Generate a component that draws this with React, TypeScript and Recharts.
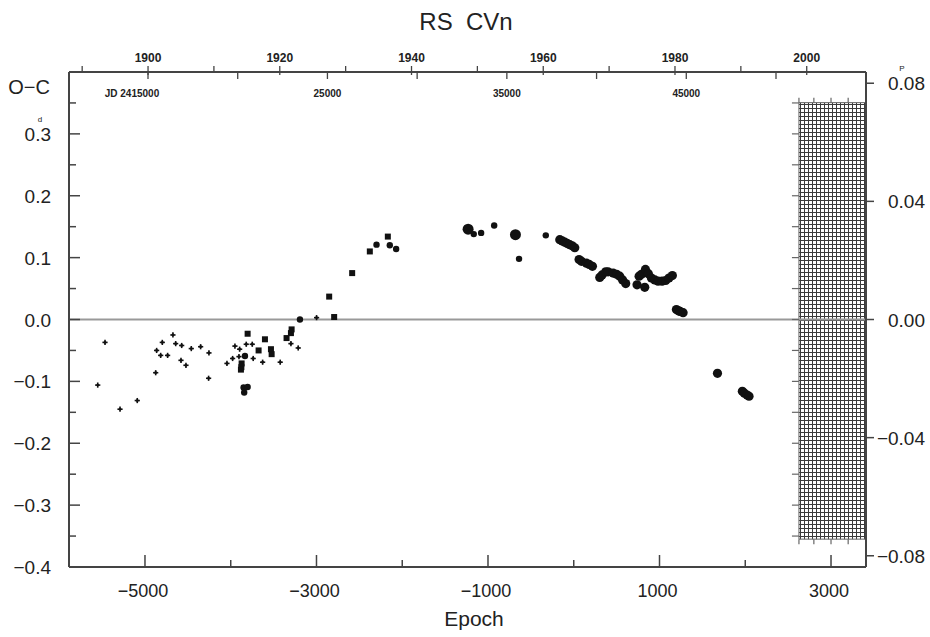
import React from 'react';
import { ScatterChart, Scatter, XAxis, YAxis, ReferenceLine, ReferenceArea } from 'recharts';

// ---------- data ----------
const visualObs: number[][] = [
  [-5551, -0.106], [-5466, -0.037], [-5291, -0.145], [-5090, -0.131], [-4875, -0.086],
  [-4864, -0.05], [-4817, -0.058], [-4798, -0.037], [-4736, -0.058], [-4674, -0.025],
  [-4642, -0.039], [-4580, -0.066], [-4572, -0.042], [-4522, -0.074], [-4460, -0.047],
  [-4351, -0.044], [-4258, -0.095], [-4254, -0.054], [-4044, -0.071], [-3978, -0.063],
  [-3951, -0.043], [-3904, -0.06], [-3896, -0.048], [-3819, -0.04], [-3749, -0.04],
  [-3738, -0.063], [-3628, -0.069], [-3423, -0.069], [-3298, -0.039], [-3213, -0.046],
  [-2999, 0.003],
];
const photoObs: number[][] = [
  [-3803, -0.023], [-3881, -0.081], [-3876, -0.077], [-3873, -0.071], [-3675, -0.05],
  [-3601, -0.032], [-3531, -0.048], [-3523, -0.056], [-3349, -0.03], [-3298, -0.022],
  [-3290, -0.016], [-2852, 0.037], [-2794, 0.004], [-2584, 0.075], [-2378, 0.11], [-2168, 0.134],
];
const smallDots: number[][] = [
  [-3850, -0.11], [-3803, -0.109], [-3843, -0.118], [-3834, -0.059], [-3193, 0.0],
  [-2300, 0.121], [-2145, 0.12], [-2071, 0.114], [-1166, 0.138], [-1080, 0.14],
  [-928, 0.152], [-638, 0.098], [-326, 0.136],
];
const bigDots: number[][] = [[-1232, 0.146], [-680, 0.137]];
const modernDots: number[][] = [
  [-163, 0.129], [-134, 0.127], [-105, 0.125], [-76, 0.123], [-47, 0.121], [-18, 0.119],
  [12, 0.116], [62, 0.097], [90, 0.094], [148, 0.091], [180, 0.089], [218, 0.086],
  [303, 0.068], [330, 0.072], [373, 0.077], [400, 0.077], [459, 0.075], [500, 0.073],
  [536, 0.07], [570, 0.064], [606, 0.058], [738, 0.056], [762, 0.07], [790, 0.073],
  [836, 0.081], [828, 0.052], [870, 0.074], [906, 0.067], [945, 0.064], [983, 0.062],
  [1030, 0.062], [1072, 0.063], [1110, 0.067], [1150, 0.071], [1197, 0.016], [1220, 0.014],
  [1240, 0.013], [1275, 0.011], [1676, -0.087], [1966, -0.116], [1990, -0.119],
  [2022, -0.122], [2044, -0.124],
];

const epochDomain = [-5886, 3408];
const ocDomain = [-0.4, 0.4];
const phaseDomain = [-0.0838, 0.0838];
const yearDomain = [1888, 2009];
const jdDomain = [10597, 55016];

const epochTicks = [-5000, -4000, -3000, -2000, -1000, 0, 1000, 2000, 3000];
const epochLabels = [-5000, -3000, -1000, 1000, 3000];
const ocTicks = [-0.4, -0.35, -0.3, -0.25, -0.2, -0.15, -0.1, -0.05, 0, 0.05, 0.1, 0.15, 0.2, 0.25, 0.3, 0.35, 0.4];
const ocLabels = [-0.4, -0.3, -0.2, -0.1, 0, 0.1, 0.2, 0.3];
const phaseTicks = [-0.08, -0.04, 0, 0.04, 0.08];
const yearTicks = [1890, 1900, 1910, 1920, 1930, 1940, 1950, 1960, 1970, 1980, 1990, 2000];
const yearLabels = [1900, 1920, 1940, 1960, 1980, 2000];
const jdTicks = [15000, 20000, 25000, 30000, 35000, 40000, 45000, 50000];
const jdLabels: Record<number, string> = { 15000: 'JD 2415000', 25000: '25000', 35000: '35000', 45000: '45000' };
const hatchBox = { x1: 2626, x2: 3408, y1: -0.355, y2: 0.3505 };
const hatchSideTicks = [0.35, 0.3, 0.25, 0.2, 0.15, 0.1, 0.05, 0, -0.05, -0.1, -0.15, -0.2, -0.25, -0.3, -0.35];
const hatchEdgeTicks = [2626, 2800, 3000, 3200];

const toPts = (a: number[][]) => a.map(([x, y]) => ({ x, y }));

const FONT = "'Liberation Sans', Arial, sans-serif";
const INK = '#222';
const AXIS = '#444';

const fmt = (v: number, d: number) => (v < 0 ? '\u2212' : '') + Math.abs(v).toFixed(d);
const near = (a: number, b: number) => Math.abs(a - b) < 1e-9;

const EpochTick = (p: any) => {
  const v = p.payload.value;
  const major = epochLabels.includes(v);
  return (
    <g>
      <line x1={p.x} x2={p.x} y1={p.y} y2={p.y - (major ? 12 : 7)} stroke={AXIS} strokeWidth={1.5} />
      {major && (
        <text x={p.x - 2} y={p.y + 30} textAnchor="middle" fontSize={18} fontFamily={FONT} fill={INK}>
          {fmt(v, 0)}
        </text>
      )}
    </g>
  );
};

const OcTick = (p: any) => {
  const v = p.payload.value;
  const major = Math.round(v * 100) % 10 === 0;
  const lab = ocLabels.some((l) => near(l, v));
  const is03 = near(v, 0.3);
  return (
    <g>
      <line x1={p.x} x2={p.x + (major ? 11 : 7)} y1={p.y} y2={p.y} stroke={AXIS} strokeWidth={1.5} />
      {lab && (
        <text x={p.x - 18} y={p.y + 7} textAnchor="end" fontSize={19} fontFamily={FONT} fill={INK}>
          {fmt(v, 1)}
        </text>
      )}
      {is03 && (
        <text x={p.x - 29} y={p.y - 12} textAnchor="middle" fontSize={8} fontFamily={FONT} fill={INK}>d</text>
      )}
    </g>
  );
};

const PhaseTick = (p: any) => {
  const v = p.payload.value;
  const is08 = near(v, 0.08);
  return (
    <g>
      <line x1={p.x} x2={p.x + 8} y1={p.y} y2={p.y} stroke={AXIS} strokeWidth={1.5} />
      <text x={p.x + 59} y={p.y + 7} textAnchor="end" fontSize={19} fontFamily={FONT} fill={INK}>
        {fmt(v, 2)}
      </text>
      {is08 && (
        <text x={p.x + 36} y={p.y - 12} textAnchor="middle" fontSize={8} fontFamily={FONT} fill={INK}>P</text>
      )}
    </g>
  );
};

const YearTick = (p: any) => {
  const v = p.payload.value;
  const lab = yearLabels.includes(v);
  return (
    <g>
      <line x1={p.x} x2={p.x} y1={p.y + (lab ? 3 : 0)} y2={p.y - 6} stroke={AXIS} strokeWidth={1.3} />
      {lab && (
        <text x={p.x} y={p.y - 10} textAnchor="middle" fontSize={12} fontWeight="bold" fontFamily={FONT} fill={INK}>
          {v}
        </text>
      )}
    </g>
  );
};

const JdTick = (p: any) => {
  const v = p.payload.value;
  const lab = jdLabels[v];
  return (
    <g>
      <line x1={p.x} x2={p.x} y1={p.y} y2={p.y + 7} stroke={AXIS} strokeWidth={1.3} />
      {lab && (
        <text x={v === 15000 ? p.x - 16 : p.x} y={p.y + 25} textAnchor="middle" fontSize={10} fontWeight="bold" fontFamily={FONT} fill={INK}>
          {lab}
        </text>
      )}
    </g>
  );
};

const plusShape = (p: any) => (
  <g>
    <line x1={p.cx - 2.6} x2={p.cx + 2.6} y1={p.cy} y2={p.cy} stroke="#111" strokeWidth={1.6} />
    <line x1={p.cx} x2={p.cx} y1={p.cy - 2.6} y2={p.cy + 2.6} stroke="#111" strokeWidth={1.6} />
    <circle cx={p.cx} cy={p.cy} r={1.4} fill="#111" />
  </g>
);
const squareShape = (p: any) => <rect x={p.cx - 3} y={p.cy - 3} width={6} height={6} fill="#111" />;
const dot = (r: number) => (p: any) => <circle cx={p.cx} cy={p.cy} r={r} fill="#111" />;
const noShape = () => <g />;
const leftTickShape = (p: any) => <line x1={p.cx - 7} x2={p.cx} y1={p.cy} y2={p.cy} stroke="#666" strokeWidth={1.2} />;
const downTickShape = (p: any) => <line x1={p.cx} x2={p.cx} y1={p.cy} y2={p.cy + 5} stroke="#666" strokeWidth={1.2} />;
const upTickShape = (p: any) => <line x1={p.cx} x2={p.cx} y1={p.cy} y2={p.cy - 5} stroke="#666" strokeWidth={1.2} />;

export default function App() {
  const W = 930;
  const H = 637;
  return (
    <div style={{ position: 'absolute', left: 0, top: 0, width: W, height: H, fontFamily: FONT, color: INK }}>
      <ScatterChart width={W} height={H} margin={{ top: 48, right: 0, bottom: 0, left: 8 }}>
        <defs>
          <pattern id="hatch" width="4" height="4" patternUnits="userSpaceOnUse">
            <rect width="4" height="4" fill="#fff" />
            <path d="M0 0.5H4M0.5 0V4" stroke="#3a3a3a" strokeWidth="1" />
          </pattern>
        </defs>
        <XAxis xAxisId="epoch" dataKey="x" type="number" domain={epochDomain} ticks={epochTicks} interval={0}
          orientation="bottom" height={70} tickSize={0} tickMargin={0} tickLine={false}
          axisLine={{ stroke: AXIS, strokeWidth: 2 }} tick={EpochTick} allowDataOverflow />
        <XAxis xAxisId="year" dataKey="x" type="number" domain={yearDomain} ticks={yearTicks} interval={0}
          orientation="top" height={24} tickSize={0} tickMargin={0} tickLine={false}
          axisLine={{ stroke: AXIS, strokeWidth: 2 }} tick={YearTick} allowDataOverflow />
        <XAxis xAxisId="jd" dataKey="x" type="number" domain={jdDomain} ticks={jdTicks} interval={0}
          orientation="top" mirror height={30} tickSize={0} tickMargin={0} tickLine={false}
          axisLine={false} tick={JdTick} allowDataOverflow />
        <YAxis yAxisId="oc" dataKey="y" type="number" domain={ocDomain} ticks={ocTicks} interval={0}
          width={61} tickSize={0} tickMargin={0} tickLine={false}
          axisLine={{ stroke: AXIS, strokeWidth: 2 }} tick={OcTick} allowDataOverflow />
        <YAxis yAxisId="phase" dataKey="y" orientation="right" type="number" domain={phaseDomain} ticks={phaseTicks} interval={0}
          width={64} tickSize={0} tickMargin={0} tickLine={false}
          axisLine={{ stroke: AXIS, strokeWidth: 2 }} tick={PhaseTick} allowDataOverflow />
        <ReferenceLine xAxisId="epoch" yAxisId="oc" y={0} stroke="#999" strokeWidth={2} />
        <ReferenceArea xAxisId="epoch" yAxisId="oc" x1={hatchBox.x1} x2={hatchBox.x2} y1={hatchBox.y1} y2={hatchBox.y2}
          fill="url(#hatch)" fillOpacity={1} stroke="#666" strokeWidth={1} ifOverflow="extendDomain" />
        <Scatter xAxisId="epoch" yAxisId="oc" data={hatchSideTicks.map((y) => ({ x: hatchBox.x1, y }))} shape={leftTickShape} isAnimationActive={false} />
        <Scatter xAxisId="epoch" yAxisId="oc" data={hatchEdgeTicks.map((x) => ({ x, y: hatchBox.y1 }))} shape={downTickShape} isAnimationActive={false} />
        <Scatter xAxisId="epoch" yAxisId="oc" data={hatchEdgeTicks.map((x) => ({ x, y: hatchBox.y2 }))} shape={upTickShape} isAnimationActive={false} />
        <Scatter xAxisId="year" yAxisId="oc" data={yearTicks.map((x) => ({ x, y: 0 }))} shape={noShape} isAnimationActive={false} />
        <Scatter xAxisId="jd" yAxisId="phase" data={jdTicks.map((x) => ({ x, y: 0 }))} shape={noShape} isAnimationActive={false} />
        <Scatter xAxisId="epoch" yAxisId="oc" data={toPts(visualObs)} shape={plusShape} isAnimationActive={false} />
        <Scatter xAxisId="epoch" yAxisId="oc" data={toPts(photoObs)} shape={squareShape} isAnimationActive={false} />
        <Scatter xAxisId="epoch" yAxisId="oc" data={toPts(smallDots)} shape={dot(3.2)} isAnimationActive={false} />
        <Scatter xAxisId="epoch" yAxisId="oc" data={toPts(bigDots)} shape={dot(5.5)} isAnimationActive={false} />
        <Scatter xAxisId="epoch" yAxisId="oc" data={toPts(modernDots)} shape={dot(4.6)} isAnimationActive={false} />
      </ScatterChart>
      <div style={{ position: 'absolute', left: 466, top: 22, transform: 'translate(-50%,-50%)', fontSize: 24, lineHeight: 1, whiteSpace: 'pre' }}>
        {'RS  CVn'}
      </div>
      <div style={{ position: 'absolute', left: 29, top: 87, transform: 'translate(-50%,-50%)', fontSize: 20, lineHeight: 1, whiteSpace: 'pre' }}>
        {'O\u2212C'}
      </div>
      <div style={{ position: 'absolute', left: 474, top: 618, transform: 'translate(-50%,-50%)', fontSize: 21, lineHeight: 1 }}>
        Epoch
      </div>
    </div>
  );
}
